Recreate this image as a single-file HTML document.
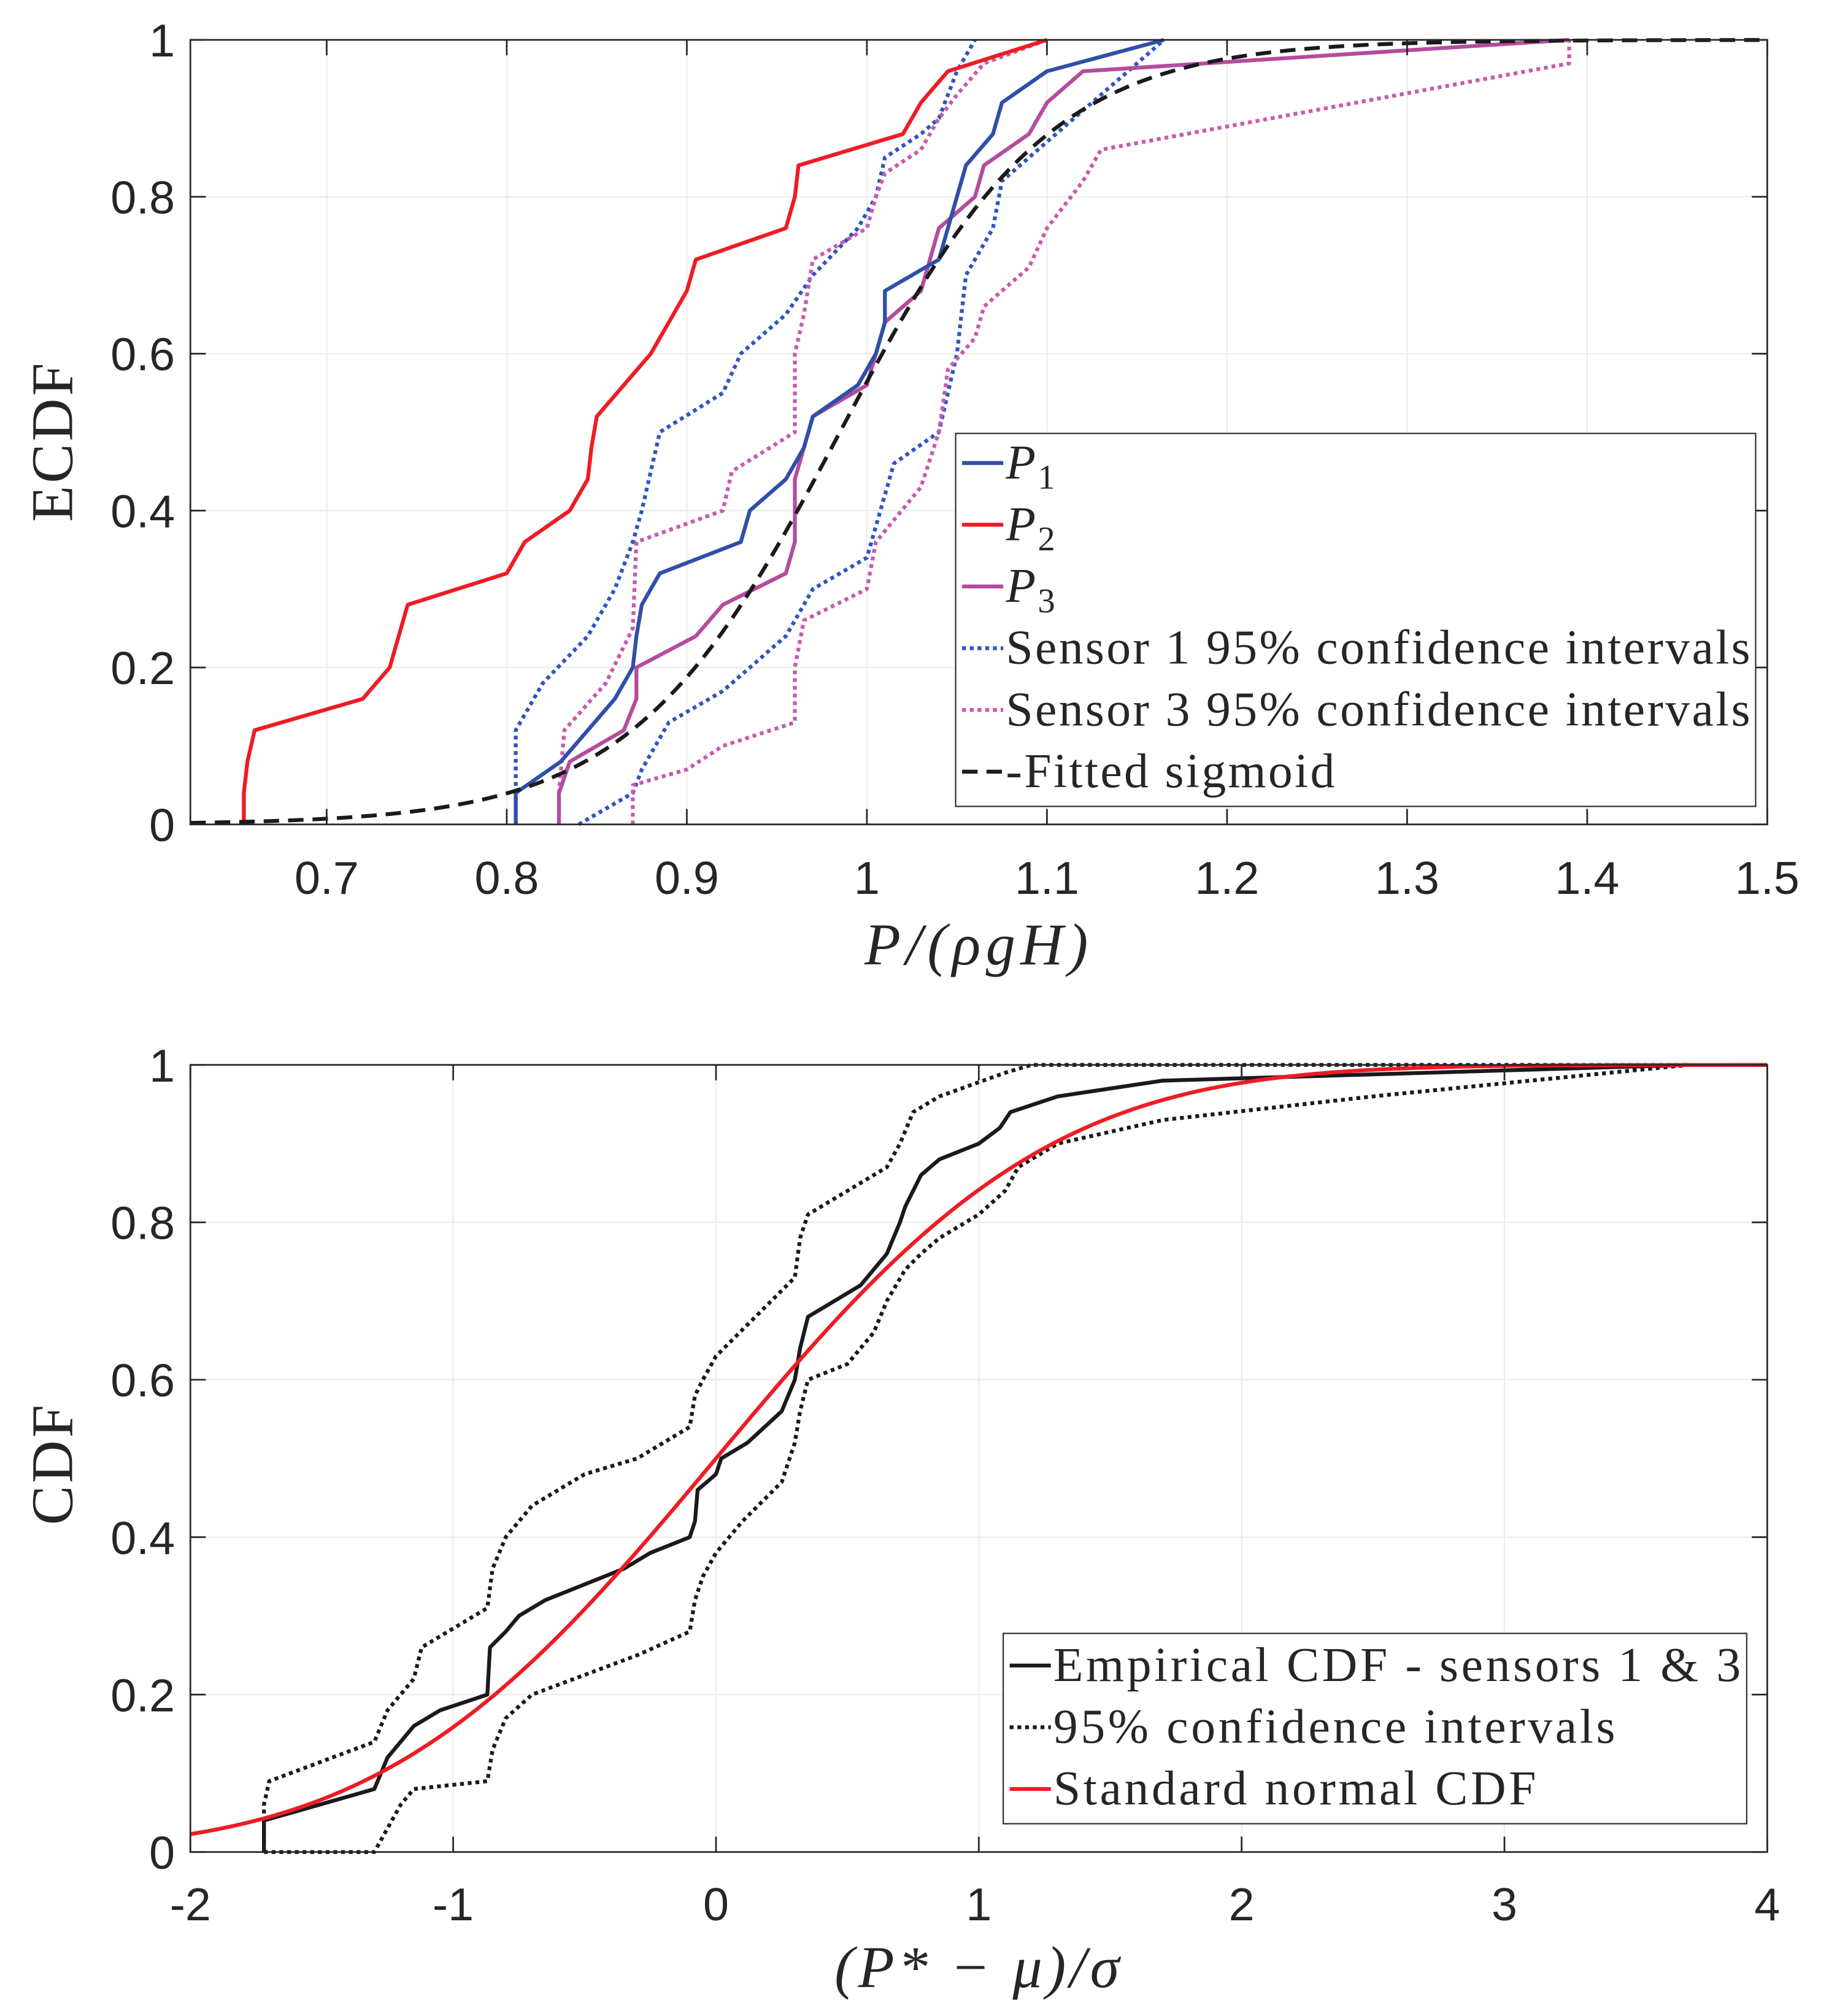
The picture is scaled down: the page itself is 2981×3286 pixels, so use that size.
<!DOCTYPE html>
<html><head><meta charset="utf-8"><style>
html,body{margin:0;padding:0;background:#fff;}
svg{display:block;}
text{fill:#262626;}
</style></head><body>
<svg id="fig" width="2981" height="3286" viewBox="0 0 1422 1567.5" xmlns="http://www.w3.org/2000/svg">
<g id="top"></g>
<g id="bot"></g>
</svg>
<script>
// ---- Top chart data ----
const p1X=[0.805,0.805,0.83,0.845,0.86,0.87,0.872,0.875,0.885,0.93,0.935,0.955,0.965,0.97,0.995,1.005,1.01,1.01,1.04,1.045,1.05,1.055,1.07,1.075,1.1,1.165];
const p1Y=[0,0.04,0.08,0.12,0.16,0.2,0.24,0.28,0.32,0.36,0.4,0.44,0.48,0.52,0.56,0.6,0.64,0.68,0.72,0.76,0.8,0.84,0.88,0.92,0.96,1];
const p2X=[0.654,0.654,0.656,0.66,0.72,0.735,0.74,0.745,0.8,0.81,0.835,0.845,0.847,0.85,0.865,0.88,0.89,0.9,0.905,0.955,0.96,0.962,1.02,1.03,1.045,1.1];
const p2Y=[0,0.04,0.08,0.12,0.16,0.2,0.24,0.28,0.32,0.36,0.4,0.44,0.48,0.52,0.56,0.6,0.64,0.68,0.72,0.76,0.8,0.84,0.88,0.92,0.96,1];
const p3X=[0.829,0.829,0.835,0.865,0.872,0.872,0.905,0.92,0.955,0.96,0.96,0.96,0.965,0.97,1.0,1.005,1.01,1.03,1.035,1.04,1.06,1.065,1.09,1.1,1.12,1.39];
const p3Y=[0,0.04,0.08,0.12,0.16,0.2,0.24,0.28,0.32,0.36,0.4,0.44,0.48,0.52,0.56,0.6,0.64,0.68,0.72,0.76,0.8,0.84,0.88,0.92,0.96,1];
const s1UpX=[0.805,0.805,0.82,0.845,0.86,0.87,0.875,0.885,0.92,0.93,0.955,0.97,0.995,1.005,1.01,1.03,1.04,1.05,1.06];
const s1UpY=[0,0.12,0.18,0.24,0.3,0.36,0.4,0.5,0.55,0.6,0.65,0.7,0.76,0.8,0.85,0.88,0.9,0.96,1];
const s1LoX=[0.84,0.87,0.875,0.89,0.92,0.935,0.955,0.965,0.97,1.0,1.005,1.01,1.015,1.04,1.045,1.05,1.055,1.07,1.075,1.1,1.165];
const s1LoY=[0,0.04,0.07,0.13,0.17,0.2,0.24,0.28,0.3,0.34,0.38,0.42,0.46,0.5,0.55,0.6,0.7,0.76,0.82,0.87,1];
const s3UpX=[0.829,0.829,0.832,0.855,0.87,0.872,0.92,0.925,0.96,0.96,0.965,0.97,1.0,1.005,1.01,1.03,1.04,1.05,1.065,1.1];
const s3UpY=[0,0.04,0.12,0.18,0.25,0.36,0.4,0.45,0.5,0.6,0.65,0.72,0.76,0.8,0.83,0.86,0.9,0.93,0.97,1];
const s3LoX=[0.87,0.87,0.9,0.92,0.96,0.96,0.965,1.0,1.005,1.03,1.04,1.045,1.06,1.065,1.09,1.1,1.12,1.13,1.39,1.39];
const s3LoY=[0,0.05,0.07,0.1,0.13,0.2,0.26,0.3,0.36,0.43,0.5,0.58,0.62,0.66,0.71,0.76,0.82,0.86,0.97,1];
const sigmoidParams=[0.985,0.058];
const topXTicks=[0.7,0.8,0.9,1,1.1,1.2,1.3,1.4,1.5];
const topYTicks=[0,0.2,0.4,0.6,0.8,1];
// ---- Bottom chart data ----
const empX=[-1.72,-1.72,-1.3,-1.25,-1.15,-1.05,-0.87,-0.86,-0.8,-0.75,-0.65,-0.35,-0.25,-0.1,-0.08,-0.07,0.0,0.02,0.12,0.25,0.3,0.32,0.35,0.45,0.55,0.65,0.7,0.72,0.78,0.85,1.0,1.08,1.12,1.3,1.7,3.7];
const empY=[0,0.04,0.08,0.12,0.16,0.18,0.2,0.26,0.28,0.3,0.32,0.36,0.38,0.4,0.42,0.46,0.48,0.5,0.52,0.56,0.6,0.64,0.68,0.7,0.72,0.76,0.8,0.82,0.86,0.88,0.9,0.92,0.94,0.96,0.98,1];
const ciUpX=[-1.72,-1.72,-1.7,-1.3,-1.25,-1.15,-1.12,-0.87,-0.85,-0.8,-0.7,-0.5,-0.3,-0.1,-0.08,-0.05,0.0,0.12,0.3,0.32,0.35,0.5,0.65,0.7,0.75,0.85,1.1,1.2,3.7];
const ciUpY=[0,0.06,0.09,0.14,0.18,0.22,0.26,0.31,0.36,0.4,0.44,0.48,0.5,0.54,0.58,0.6,0.63,0.67,0.73,0.78,0.81,0.84,0.87,0.9,0.94,0.96,0.99,1,1];
const ciLoX=[-1.72,-1.3,-1.25,-1.2,-1.15,-0.87,-0.85,-0.8,-0.7,-0.3,-0.1,-0.08,-0.05,0.0,0.1,0.25,0.3,0.32,0.35,0.5,0.6,0.65,0.72,0.78,0.85,1.0,1.1,1.15,1.3,1.7,2.5,3.7];
const ciLoY=[0,0,0.03,0.06,0.08,0.09,0.13,0.17,0.2,0.25,0.28,0.32,0.35,0.38,0.42,0.47,0.52,0.56,0.6,0.62,0.66,0.7,0.74,0.76,0.78,0.81,0.84,0.87,0.9,0.93,0.96,1];
const normalParams=[0,1];
const botXTicks=[-2,-1,0,1,2,3,4];
const botYTicks=[0,0.2,0.4,0.6,0.8,1];

const NS='http://www.w3.org/2000/svg';
function mk(parent,tag,attrs,text){const e=document.createElementNS(NS,tag);for(const k in attrs)e.setAttribute(k,attrs[k]);if(text!==undefined)e.textContent=text;parent.appendChild(e);return e;}
function erf(x){const s=Math.sign(x);x=Math.abs(x);const t=1/(1+0.3275911*x);const y=1-(((((1.061405429*t-1.453152027)*t)+1.421413741)*t-0.284496736)*t+0.254829592)*t*Math.exp(-x*x);return s*y;}

function axes(g,L,R,T,B,xmin,xmax,xticks,yticks){
  const sx=v=>L+(v-xmin)/(xmax-xmin)*(R-L), sy=v=>B-v*(B-T);
  mk(g,'rect',{x:L,y:T,width:R-L,height:B-T,fill:'#fff'});
  xticks.forEach(t=>{const gl=mk(g,'line',{x1:sx(t),x2:sx(t),y1:T,y2:B,stroke:'#ebebeb','stroke-width':1});
    });
  yticks.forEach(t=>{const gl=mk(g,'line',{x1:L,x2:R,y1:sy(t),y2:sy(t),stroke:'#ebebeb','stroke-width':1});
    });
  return {sx,sy};
}
function frame(g,L,R,T,B,xticks,yticks,sx,sy,xfmt,xLabY){
  const f=mk(g,'rect',{x:L,y:T,width:R-L,height:B-T,fill:'none',stroke:'#262626','stroke-width':1.3});
  
  xticks.forEach(t=>{mk(g,'line',{x1:sx(t),x2:sx(t),y1:B,y2:B-12,stroke:'#262626','stroke-width':1.3});mk(g,'line',{x1:sx(t),x2:sx(t),y1:T,y2:T+12,stroke:'#262626','stroke-width':1.3});
    const tx=mk(g,'text',{x:sx(t),y:xLabY,'text-anchor':'middle','font-family':'Liberation Sans, sans-serif','font-size':36},xfmt(t));
    });
  yticks.forEach(t=>{mk(g,'line',{x1:L,x2:L+12,y1:sy(t),y2:sy(t),stroke:'#262626','stroke-width':1.3});mk(g,'line',{x1:R,x2:R-12,y1:sy(t),y2:sy(t),stroke:'#262626','stroke-width':1.3});
    const tx=mk(g,'text',{x:L-12,y:sy(t)+13,'text-anchor':'end','font-family':'Liberation Sans, sans-serif','font-size':36},String(t));
    });
}
function line(g,xs,ys,sx,sy,color,dash,name){
  const d=xs.map((x,i)=>(i?'L':'M')+sx(x).toFixed(2)+' '+sy(ys[i]).toFixed(2)).join(' ');
  const p=mk(g,'path',{d,fill:'none',stroke:color,'stroke-width':3,'stroke-dasharray':dash||'none','stroke-linejoin':'round'});
  return p;
}
const BLUE='#2f4fa8',RED='#ee1c24',PURP='#b44c9e',BDOT='#2f55c0',PDOT='#c85aae';
// Top
(function(){
  const g=document.getElementById('top');
  const L=148,R=1374,T=31,B=641,xmin=0.6243,xmax=1.5;
  const {sx,sy}=axes(g,L,R,T,B,xmin,xmax,topXTicks,topYTicks);
  const sxs=[],sys=[];for(let x=xmin;x<=xmax+1e-9;x+=0.005){sxs.push(x);sys.push(1/(1+Math.exp(-(x-sigmoidParams[0])/sigmoidParams[1])));}
  line(g,s1UpX,s1UpY,sx,sy,BDOT,'3 3','sensor1-ci-upper');
  line(g,s1LoX,s1LoY,sx,sy,BDOT,'3 3','sensor1-ci-lower');
  line(g,s3UpX,s3UpY,sx,sy,PDOT,'3 3','sensor3-ci-upper');
  line(g,s3LoX,s3LoY,sx,sy,PDOT,'3 3','sensor3-ci-lower');
  line(g,p2X,p2Y,sx,sy,RED,null,'p2-line');
  line(g,p3X,p3Y,sx,sy,PURP,null,'p3-line');
  line(g,p1X,p1Y,sx,sy,BLUE,null,'p1-line');
  line(g,sxs,sys,sx,sy,'#1a1a1a','12 7','fitted-sigmoid');
  frame(g,L,R,T,B,topXTicks,topYTicks,sx,sy,t=>String(t),695);
  const xl=mk(g,'text',{x:761,y:750,'text-anchor':'middle','font-family':'Liberation Serif, serif','font-size':46,'font-style':'italic','letter-spacing':4},'P/(ρgH)');
  
  const yl=mk(g,'text',{x:0,y:0,transform:'translate(56,343) rotate(-90)','text-anchor':'middle','font-family':'Liberation Serif, serif','font-size':46,'letter-spacing':2},'ECDF');
  
  const lg=mk(g,'g',{});
  mk(lg,'rect',{x:743,y:337,width:622,height:290,fill:'#fff',stroke:'#262626','stroke-width':1});
  const ents=[[BLUE,null,'P','1'],[RED,null,'P','2'],[PURP,null,'P','3'],[BDOT,'3 3','Sensor 1 95% confidence intervals'],[PDOT,'3 3','Sensor 3 95% confidence intervals'],['#1a1a1a','12 7','-Fitted sigmoid']];
  ents.forEach((e,i)=>{const y=360+i*48;const eg=mk(lg,'g',{});
    mk(eg,'line',{x1:748,x2:780,y1:y,y2:y,stroke:e[0],'stroke-width':3,'stroke-dasharray':e[1]||'none'});
    const t=mk(eg,'text',{x:782,y:y+12,'font-family':'Liberation Serif, serif','font-size':38,'letter-spacing':1.6});
    if(e[3]){mk(t,'tspan',{'font-style':'italic'},e[2]);mk(t,'tspan',{dy:8,'font-size':27},e[3]);}else t.textContent=e[2];});
})();
// Bottom
(function(){
  const g=document.getElementById('bot');
  const L=148,R=1374,T=828,B=1440,xmin=-2,xmax=4;
  const {sx,sy}=axes(g,L,R,T,B,xmin,xmax,botXTicks,botYTicks);
  const nx=[],ny=[];for(let x=xmin;x<=xmax+1e-9;x+=0.02){nx.push(x);ny.push(0.5*(1+erf((x-normalParams[0])/(normalParams[1]*Math.SQRT2))));}
  line(g,ciUpX,ciUpY,sx,sy,'#1a1a1a','3 3','ci-upper');
  line(g,ciLoX,ciLoY,sx,sy,'#1a1a1a','3 3','ci-lower');
  line(g,empX,empY,sx,sy,'#1a1a1a',null,'empirical-cdf');
  line(g,nx,ny,sx,sy,RED,null,'standard-normal-cdf');
  frame(g,L,R,T,B,botXTicks,botYTicks,sx,sy,t=>String(t),1493);
  const xl=mk(g,'text',{x:761,y:1545,'text-anchor':'middle','font-family':'Liberation Serif, serif','font-size':46,'font-style':'italic','letter-spacing':3},'(P* − μ)/σ');
  
  const yl=mk(g,'text',{x:0,y:0,transform:'translate(56,1138) rotate(-90)','text-anchor':'middle','font-family':'Liberation Serif, serif','font-size':46,'letter-spacing':2},'CDF');
  
  const lg=mk(g,'g',{});
  mk(lg,'rect',{x:780,y:1270,width:578,height:148,fill:'#fff',stroke:'#262626','stroke-width':1});
  const ents=[['#1a1a1a',null,'Empirical CDF - sensors 1 & 3'],['#1a1a1a','3 3','95% confidence intervals'],[RED,null,'Standard normal CDF']];
  ents.forEach((e,i)=>{const y=1295+i*48;const eg=mk(lg,'g',{});
    mk(eg,'line',{x1:785,x2:817,y1:y,y2:y,stroke:e[0],'stroke-width':3,'stroke-dasharray':e[1]||'none'});
    mk(eg,'text',{x:819,y:y+12,'font-family':'Liberation Serif, serif','font-size':38,'letter-spacing':2.2},e[2]);});
})();
</script>
</body></html>
